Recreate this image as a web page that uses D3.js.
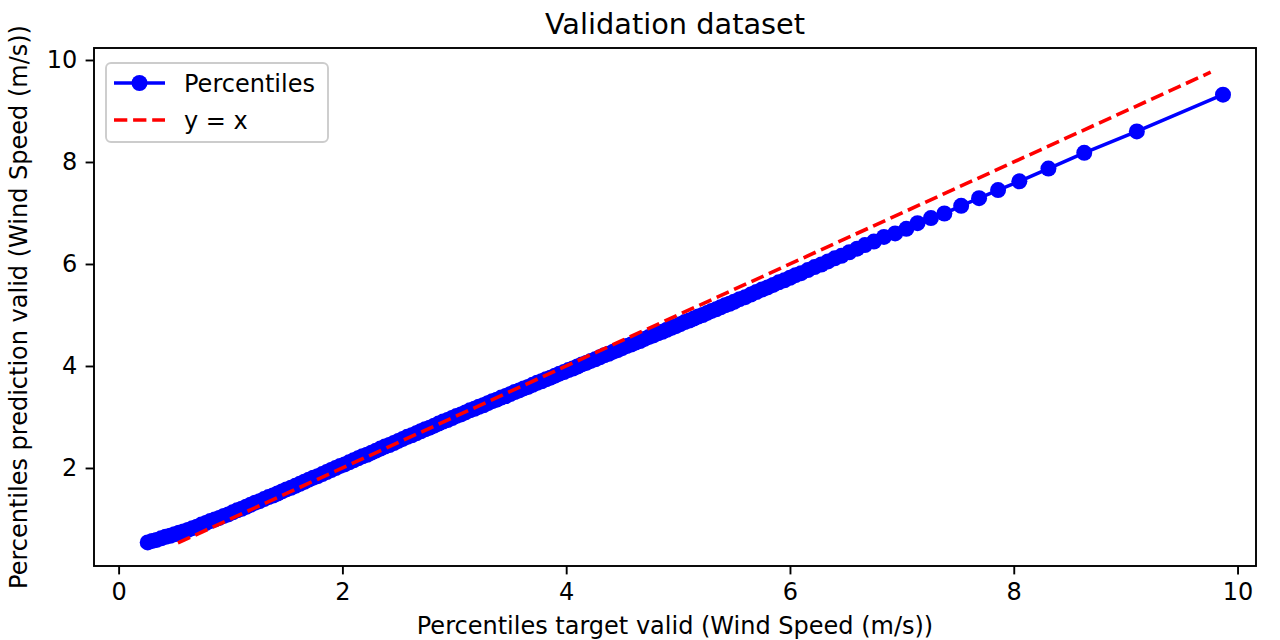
<!DOCTYPE html>
<html>
<head>
<meta charset="utf-8">
<script src="https://cdn.jsdelivr.net/npm/d3@7"></script>
<style>
  html, body { margin: 0; padding: 0; background: #fff; }
  svg text { font-family: "DejaVu Sans", sans-serif; fill: #000; }
</style>
</head>
<body>
<svg id="chart" width="1280" height="640"></svg>
<script>
// ---------------- data ----------------
const chartTitle = "Validation dataset";
const xLabel = "Percentiles target valid (Wind Speed (m/s))";
const yLabel = "Percentiles prediction valid (Wind Speed (m/s))";
const seriesName = "Percentiles";
const refName = "y = x";

const pctTarget = [
  0.26, 0.30, 0.34, 0.38, 0.42, 0.46, 0.50, 0.54, 0.58, 0.62,
  0.66, 0.70, 0.74, 0.78, 0.82, 0.86, 0.90, 0.94, 0.98, 1.02,
  1.06, 1.10, 1.14, 1.18, 1.22, 1.26, 1.30, 1.34, 1.38, 1.42,
  1.46, 1.50, 1.54, 1.58, 1.62, 1.66, 1.70, 1.74, 1.78, 1.82,
  1.86, 1.90, 1.94, 1.98, 2.02, 2.06, 2.10, 2.14, 2.18, 2.22,
  2.26, 2.30, 2.34, 2.38, 2.42, 2.46, 2.50, 2.54, 2.58, 2.62,
  2.66, 2.70, 2.74, 2.78, 2.82, 2.86, 2.90, 2.94, 2.98, 3.02,
  3.06, 3.10, 3.14, 3.18, 3.22, 3.26, 3.30, 3.34, 3.38, 3.42,
  3.46, 3.50, 3.54, 3.58, 3.62, 3.66, 3.70, 3.74, 3.78, 3.82,
  3.86, 3.90, 3.94, 3.98, 4.02, 4.06, 4.10, 4.14, 4.18, 4.22,
  4.26, 4.30, 4.34, 4.38, 4.42, 4.46, 4.50, 4.54, 4.58, 4.62,
  4.66, 4.70, 4.74, 4.78, 4.82, 4.86, 4.90, 4.94, 4.98, 5.02,
  5.06, 5.10, 5.14, 5.18, 5.22, 5.26, 5.30, 5.34, 5.38, 5.42,
  5.46, 5.50, 5.55, 5.60, 5.65, 5.70, 5.75, 5.80, 5.85, 5.90,
  5.95, 6.00, 6.05, 6.10, 6.16, 6.22, 6.28, 6.34, 6.40, 6.46,
  6.53, 6.60, 6.67, 6.75, 6.84, 6.94, 7.04, 7.14, 7.26, 7.38,
  7.53, 7.69, 7.86, 8.05, 8.31, 8.63, 9.10, 9.87
];
const pctPred = [
  0.54, 0.57, 0.59, 0.62, 0.65, 0.67, 0.70, 0.73, 0.755, 0.785,
  0.82, 0.85, 0.89, 0.92, 0.96, 0.99, 1.02, 1.06, 1.09, 1.13,
  1.17, 1.20, 1.24, 1.28, 1.32, 1.35, 1.39, 1.43, 1.46, 1.50,
  1.54, 1.58, 1.61, 1.65, 1.69, 1.73, 1.77, 1.81, 1.84, 1.88,
  1.92, 1.96, 2.00, 2.04, 2.07, 2.11, 2.15, 2.19, 2.23, 2.26,
  2.30, 2.34, 2.38, 2.42, 2.45, 2.49, 2.53, 2.57, 2.61, 2.64,
  2.68, 2.72, 2.76, 2.79, 2.83, 2.87, 2.91, 2.94, 2.98, 3.02,
  3.05, 3.09, 3.13, 3.16, 3.20, 3.23, 3.27, 3.31, 3.34, 3.38,
  3.41, 3.45, 3.49, 3.52, 3.56, 3.59, 3.63, 3.67, 3.70, 3.74,
  3.77, 3.81, 3.85, 3.88, 3.92, 3.95, 3.99, 4.03, 4.06, 4.10,
  4.13, 4.17, 4.21, 4.24, 4.28, 4.31, 4.35, 4.39, 4.42, 4.46,
  4.49, 4.53, 4.57, 4.60, 4.64, 4.67, 4.71, 4.75, 4.78, 4.82,
  4.86, 4.89, 4.93, 4.97, 5.00, 5.04, 5.08, 5.11, 5.15, 5.19,
  5.22, 5.26, 5.31, 5.35, 5.40, 5.45, 5.50, 5.54, 5.59, 5.64,
  5.68, 5.73, 5.78, 5.82, 5.88, 5.94, 5.99, 6.05, 6.11, 6.16,
  6.23, 6.30, 6.37, 6.44, 6.53, 6.60, 6.69, 6.80, 6.90, 6.99,
  7.14, 7.29, 7.45, 7.62, 7.87, 8.18, 8.60, 9.32
];
const refLine = [0.53, 9.76];   // y = x line, from .. to
const xTicks = [0, 2, 4, 6, 8, 10];
const yTicks = [2, 4, 6, 8, 10];

// ---------------- layout ----------------
const L = 94, R = 1256, T = 48, B = 566;
const FS = 24;
const tickLen = 8.4, tickPad = 8.4;

const svg = d3.select("#chart");
const x = d3.scaleLinear().domain([-0.22, 10.165]).range([L, R]);
const y = d3.scaleLinear().domain([0.078, 10.235]).range([B, T]);

const pts = pctTarget.map((v, i) => [v, pctPred[i]]);

svg.append("defs").append("clipPath").attr("id", "clip")
  .append("rect").attr("x", L).attr("y", T).attr("width", R - L).attr("height", B - T);

const plot = svg.append("g").attr("clip-path", "url(#clip)");
const line = d3.line().x(d => x(d[0])).y(d => y(d[1]));

plot.append("path").datum(pts)
  .attr("d", line).attr("fill", "none")
  .attr("stroke", "#0000ff").attr("stroke-width", 3.6)
  .attr("stroke-linejoin", "round").attr("stroke-linecap", "square");

plot.selectAll("circle.pt").data(pts).enter().append("circle")
  .attr("class", "pt")
  .attr("cx", d => x(d[0])).attr("cy", d => y(d[1]))
  .attr("r", 8).attr("fill", "#0000ff");

plot.append("path").datum(refLine.map(v => [v, v]))
  .attr("d", line).attr("fill", "none")
  .attr("stroke", "#ff0000").attr("stroke-width", 3.6)
  .attr("stroke-dasharray", "13.3,5.8");

// axes
const xAxis = d3.axisBottom(x).tickValues(xTicks).tickFormat(d3.format("d"))
  .tickSize(tickLen).tickPadding(tickPad);
const gx = svg.append("g").attr("transform", `translate(0,${B})`).call(xAxis);
gx.select(".domain").remove();
gx.selectAll("line").attr("stroke", "#000").attr("stroke-width", 1.9);
gx.selectAll("text").attr("font-size", FS).attr("font-family", "DejaVu Sans").attr("fill", "#000");

const yAxis = d3.axisLeft(y).tickValues(yTicks).tickFormat(d3.format("d"))
  .tickSize(tickLen).tickPadding(tickPad);
const gy = svg.append("g").attr("transform", `translate(${L},0)`).call(yAxis);
gy.select(".domain").remove();
gy.selectAll("line").attr("stroke", "#000").attr("stroke-width", 1.9);
gy.selectAll("text").attr("font-size", FS).attr("font-family", "DejaVu Sans").attr("fill", "#000");

// spines
svg.append("rect").attr("x", L).attr("y", T).attr("width", R - L).attr("height", B - T)
  .attr("fill", "none").attr("stroke", "#000").attr("stroke-width", 1.9);

// title & labels
svg.append("text").attr("x", (L + R) / 2).attr("y", 34)
  .attr("text-anchor", "middle").attr("font-size", 28.8).text(chartTitle);
svg.append("text").attr("x", (L + R) / 2).attr("y", 634)
  .attr("text-anchor", "middle").attr("font-size", FS).text(xLabel);
svg.append("text").attr("transform", `translate(27,${(T + B) / 2}) rotate(-90)`)
  .attr("text-anchor", "middle").attr("font-size", FS).text(yLabel);

// legend
const lg = svg.append("g");
lg.append("rect").attr("x", 106).attr("y", 63).attr("width", 222).attr("height", 79)
  .attr("rx", 5).attr("fill", "#fff").attr("fill-opacity", 0.8)
  .attr("stroke", "#cccccc").attr("stroke-width", 1.9);
lg.append("line").attr("x1", 114).attr("x2", 165).attr("y1", 83).attr("y2", 83)
  .attr("stroke", "#0000ff").attr("stroke-width", 3.6);
lg.append("circle").attr("cx", 139.5).attr("cy", 83).attr("r", 8).attr("fill", "#0000ff");
lg.append("line").attr("x1", 114).attr("x2", 165).attr("y1", 120).attr("y2", 120)
  .attr("stroke", "#ff0000").attr("stroke-width", 3.6).attr("stroke-dasharray", "13.3,5.8");
lg.append("text").attr("x", 184).attr("y", 91.5).attr("font-size", FS).text(seriesName);
lg.append("text").attr("x", 184).attr("y", 128.5).attr("font-size", FS).text(refName);
</script>
</body>
</html>
